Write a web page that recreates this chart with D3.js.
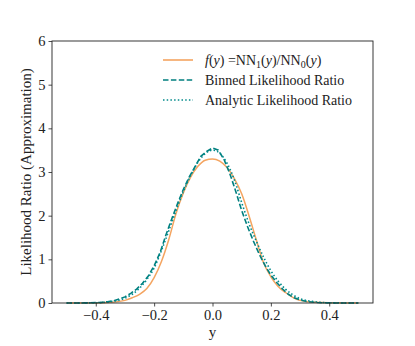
<!DOCTYPE html>
<html>
<head>
<meta charset="utf-8">
<script src="https://cdn.jsdelivr.net/npm/d3@7"></script>
<style>
body { margin: 0; background: #fff; }
svg { display: block; }
</style>
</head>
<body>
<svg id="chart" width="415" height="346" font-family="Liberation Serif"></svg>
<script>
// ---- data ----
const nnY = [-0.5,-0.45,-0.4,-0.35,-0.3,-0.275,-0.25,-0.225,-0.2,-0.175,-0.15,-0.125,-0.1,-0.075,-0.05,-0.025,0,0.025,0.05,0.075,0.1,0.125,0.15,0.175,0.2,0.225,0.25,0.275,0.3,0.35,0.4,0.45,0.5];
const nnRatio = [0,0,0.002,0.015,0.06,0.12,0.2,0.33,0.58,0.95,1.45,2.05,2.52,2.88,3.13,3.27,3.3,3.25,3.1,2.85,2.5,2.0,1.45,0.92,0.6,0.38,0.24,0.13,0.06,0.015,0.003,0.001,0];

const binnedY = [-0.5,-0.48,-0.46,-0.44,-0.42,-0.4,-0.38,-0.36,-0.34,-0.32,-0.3,-0.28,-0.26,-0.24,-0.22,-0.2,-0.18,-0.16,-0.14,-0.12,-0.1,-0.08,-0.06,-0.04,-0.02,0,0.02,0.04,0.06,0.08,0.1,0.12,0.14,0.16,0.18,0.2,0.22,0.24,0.26,0.28,0.3,0.32,0.34,0.36,0.38,0.4,0.42,0.44,0.46,0.48,0.5];
const binnedRatio = [0,0,0.001,0.002,0.004,0.008,0.015,0.03,0.05,0.09,0.14,0.22,0.32,0.45,0.62,0.85,1.15,1.55,1.92,2.27,2.6,2.88,3.12,3.36,3.47,3.55,3.5,3.28,2.95,2.55,2.12,1.75,1.42,1.12,0.86,0.64,0.47,0.32,0.2,0.12,0.07,0.04,0.022,0.01,0.005,0.003,0.001,0,0,0,0];

const analyticY = [-0.5,-0.45,-0.4,-0.35,-0.3,-0.275,-0.25,-0.225,-0.2,-0.175,-0.15,-0.125,-0.1,-0.075,-0.05,-0.025,0,0.025,0.05,0.075,0.1,0.125,0.15,0.175,0.2,0.225,0.25,0.275,0.3,0.35,0.4,0.45,0.5];
const analyticRatio = [0,0.001,0.005,0.03,0.11,0.2,0.34,0.54,0.8,1.2,1.65,2.12,2.55,2.92,3.22,3.42,3.5,3.43,3.2,2.82,2.3,1.82,1.42,1.05,0.74,0.5,0.32,0.19,0.1,0.03,0.005,0.001,0];

const xTicks = [-0.4,-0.2,0.0,0.2,0.4];
const yTicks = [0,1,2,3,4,5,6];
const xLabel = "y";
const yLabel = "Likelihood Ratio (Approximation)";

// ---- layout ----
const FONT = "Liberation Serif";
const svg = d3.select("#chart");
const L = 52, R = 373, T = 41, B = 303;
const x = d3.scaleLinear().domain([-0.55, 0.55]).range([L, R]);
const y = d3.scaleLinear().domain([0, 6]).range([B, T]);

const line = (xs, ys, curve) => d3.line().curve(curve).x((d,i) => x(xs[i])).y(d => y(d))(ys);

const plot = svg.append("g");
plot.append("path").attr("d", line(nnY, nnRatio, d3.curveMonotoneX))
  .attr("fill","none").attr("stroke","#f4a460").attr("stroke-width",1.5);
plot.append("path").attr("d", line(binnedY, binnedRatio, d3.curveLinear))
  .attr("fill","none").attr("stroke","#007f7f").attr("stroke-width",1.6).attr("stroke-dasharray","5.5,2.4");
plot.append("path").attr("d", line(analyticY, analyticRatio, d3.curveMonotoneX))
  .attr("fill","none").attr("stroke","#008b8b").attr("stroke-width",1.6).attr("stroke-dasharray","1.5,2.2");

// axes
const fmt = d => (d < 0 ? "\u2212" : "") + Math.abs(d).toFixed(1);
const xAxis = svg.append("g").attr("transform", `translate(0,${B})`)
  .call(d3.axisBottom(x).tickValues(xTicks).tickFormat(fmt).tickSize(3.5).tickPadding(3));
const yAxis = svg.append("g").attr("transform", `translate(${L},0)`)
  .call(d3.axisLeft(y).tickValues(yTicks).tickFormat(d3.format("d")).tickSize(3.5).tickPadding(3));
[xAxis, yAxis].forEach(a => {
  a.attr("font-family", FONT).attr("font-size", 14.5);
  a.select(".domain").remove();
  a.selectAll(".tick line").attr("stroke","#222").attr("stroke-width",0.8);
  a.selectAll(".tick text").attr("font-family", FONT).attr("font-size", 14.5).attr("fill","#222");
});
// spines
svg.append("rect").attr("x",L).attr("y",T).attr("width",R-L).attr("height",B-T)
  .attr("fill","none").attr("stroke","#222").attr("stroke-width",0.9);

svg.append("text").attr("x",(L+R)/2).attr("y",337).attr("text-anchor","middle")
  .attr("font-family",FONT).attr("font-size",15).attr("fill","#222").text(xLabel);
svg.append("text").attr("transform",`translate(31,${(T+B)/2}) rotate(-90)`).attr("text-anchor","middle")
  .attr("font-family",FONT).attr("font-size",15).attr("fill","#222").text(yLabel);

// legend
const leg = svg.append("g").attr("font-family",FONT).attr("font-size",14).attr("fill","#222");
const rows = [
  {stroke:"#f4a460", dash:null},
  {stroke:"#007f7f", dash:"5.5,2.4"},
  {stroke:"#008b8b", dash:"1.5,2.2"}
];
rows.forEach((r,i) => {
  const yy = 60 + i*20;
  leg.append("line").attr("x1",163).attr("x2",193).attr("y1",yy).attr("y2",yy)
    .attr("stroke",r.stroke).attr("stroke-width",1.6).attr("stroke-dasharray",r.dash);
});
const t0 = leg.append("text").attr("x",205).attr("y",64.5);
t0.append("tspan").attr("font-style","italic").text("f");
t0.append("tspan").text("(");
t0.append("tspan").attr("font-style","italic").text("y");
t0.append("tspan").text(") =NN");
t0.append("tspan").attr("dy",3).attr("font-size",10).text("1");
t0.append("tspan").attr("dy",-3).text("(");
t0.append("tspan").attr("font-style","italic").text("y");
t0.append("tspan").text(")/NN");
t0.append("tspan").attr("dy",3).attr("font-size",10).text("0");
t0.append("tspan").attr("dy",-3).text("(");
t0.append("tspan").attr("font-style","italic").text("y");
t0.append("tspan").text(")");
leg.append("text").attr("x",205).attr("y",84.5).text("Binned Likelihood Ratio");
leg.append("text").attr("x",205).attr("y",104.5).text("Analytic Likelihood Ratio");
</script>
</body>
</html>
